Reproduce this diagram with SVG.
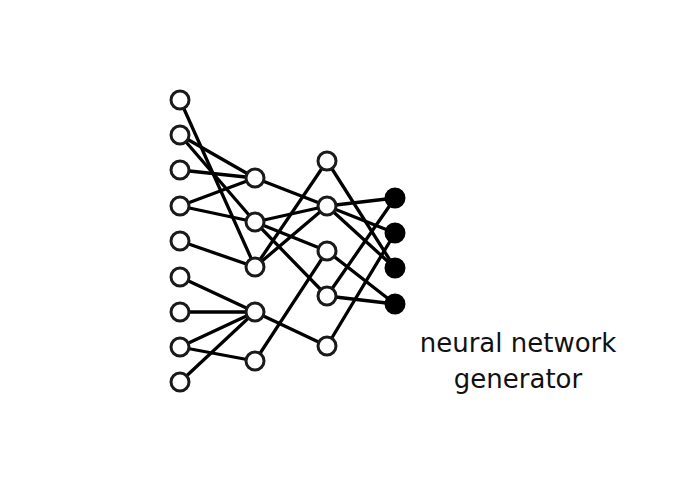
<svg xmlns="http://www.w3.org/2000/svg" width="695" height="494" viewBox="0 0 695 494">
<style>
.e{stroke:#000;stroke-width:3.3;fill:none;stroke-linecap:round}
.n{fill:#fff;stroke:#1a1a1a;stroke-width:3}
.o{fill:#000;stroke:#000;stroke-width:3}
.t{font-family:"DejaVu Sans","Liberation Sans",sans-serif;font-size:26px;fill:#111;text-anchor:middle}
</style>
<rect width="695" height="494" fill="#fff"/>
<g id="connectors" class="e">
<line x1="180" y1="100" x2="255" y2="267"/>
<line x1="180" y1="135" x2="255" y2="178"/>
<line x1="180" y1="135" x2="255" y2="222"/>
<line x1="180" y1="170" x2="255" y2="178"/>
<line x1="180" y1="206" x2="255" y2="178"/>
<line x1="180" y1="206" x2="255" y2="222"/>
<line x1="180" y1="241" x2="255" y2="267"/>
<line x1="180" y1="277" x2="255" y2="312"/>
<line x1="180" y1="312" x2="255" y2="312"/>
<line x1="180" y1="347" x2="255" y2="312"/>
<line x1="180" y1="347" x2="255" y2="361"/>
<line x1="180" y1="382" x2="255" y2="312"/>
<line x1="255" y1="178" x2="327" y2="206"/>
<line x1="255" y1="222" x2="327" y2="206"/>
<line x1="255" y1="222" x2="327" y2="251"/>
<line x1="255" y1="222" x2="327" y2="296"/>
<line x1="255" y1="267" x2="327" y2="161"/>
<line x1="255" y1="267" x2="327" y2="206"/>
<line x1="255" y1="312" x2="327" y2="346"/>
<line x1="255" y1="361" x2="327" y2="251"/>
<line x1="327" y1="161" x2="395" y2="268"/>
<line x1="327" y1="206" x2="395" y2="198"/>
<line x1="327" y1="206" x2="395" y2="233"/>
<line x1="327" y1="206" x2="395" y2="268"/>
<line x1="327" y1="251" x2="395" y2="304"/>
<line x1="327" y1="296" x2="395" y2="198"/>
<line x1="327" y1="296" x2="395" y2="304"/>
<line x1="327" y1="346" x2="395" y2="233"/>
</g>
<g id="in1"><circle class="n" cx="180" cy="100" r="9"/></g>
<g id="in2"><circle class="n" cx="180" cy="135" r="9"/></g>
<g id="in3"><circle class="n" cx="180" cy="170" r="9"/></g>
<g id="in4"><circle class="n" cx="180" cy="206" r="9"/></g>
<g id="in5"><circle class="n" cx="180" cy="241" r="9"/></g>
<g id="in6"><circle class="n" cx="180" cy="277" r="9"/></g>
<g id="in7"><circle class="n" cx="180" cy="312" r="9"/></g>
<g id="in8"><circle class="n" cx="180" cy="347" r="9"/></g>
<g id="in9"><circle class="n" cx="180" cy="382" r="9"/></g>
<g id="h1a"><circle class="n" cx="255" cy="178" r="9"/></g>
<g id="h1b"><circle class="n" cx="255" cy="222" r="9"/></g>
<g id="h1c"><circle class="n" cx="255" cy="267" r="9"/></g>
<g id="h1d"><circle class="n" cx="255" cy="312" r="9"/></g>
<g id="h1e"><circle class="n" cx="255" cy="361" r="9"/></g>
<g id="h2a"><circle class="n" cx="327" cy="161" r="9"/></g>
<g id="h2b"><circle class="n" cx="327" cy="206" r="9"/></g>
<g id="h2c"><circle class="n" cx="327" cy="251" r="9"/></g>
<g id="h2d"><circle class="n" cx="327" cy="296" r="9"/></g>
<g id="h2e"><circle class="n" cx="327" cy="346" r="9"/></g>
<g id="out1"><circle class="o" cx="395" cy="198" r="9"/></g>
<g id="out2"><circle class="o" cx="395" cy="233" r="9"/></g>
<g id="out3"><circle class="o" cx="395" cy="268" r="9"/></g>
<g id="out4"><circle class="o" cx="395" cy="304" r="9"/></g>
<g id="label">
<text class="t" x="518" y="352">neural network</text>
<text class="t" x="518" y="388">generator</text>
</g>
</svg>
